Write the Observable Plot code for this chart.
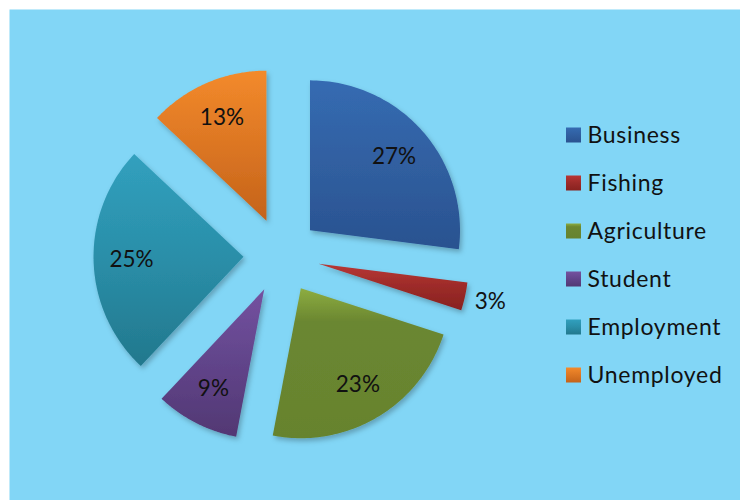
<!DOCTYPE html>
<html>
<head>
<meta charset="utf-8">
<script src="https://cdn.jsdelivr.net/npm/d3@7"></script>
<script src="https://cdn.jsdelivr.net/npm/@observablehq/plot@0.6"></script>
<style>
  html, body { margin: 0; padding: 0; background: #ffffff; }
  #chart svg { display: block; }
</style>
</head>
<body>
<div id="chart"></div>
<script>
// ---- data ----
const categories = ["Business", "Fishing", "Agriculture", "Student", "Employment", "Unemployed"];
const shares = [27, 3, 23, 9, 25, 13];
const shareLabels = ["27%", "3%", "23%", "9%", "25%", "13%"];
const topColors = ["#356BB2", "#B83634", "#8DAD41", "#7452A0", "#31A0BE", "#F38A2B"];
const midColors = ["#305FA0", "#9C2B29", "#6B8731", "#61448A", "#2A8EA8", "#DC7623"];
const bottomColors = ["#2A5290", "#88221F", "#66832E", "#523873", "#22788D", "#C4631A"];
const midStops = ["50%", "50%", "22%", "50%", "50%", "50%"];

// ---- layout constants ----
const W = 740, H = 500;
const cx = 281, cy = 255, R = 150, explode = 38;
const labelR = 112, outsideLabelR = 176;

const pie = d3.pie().sort(null).value(d => d)(shares);

const polyRows = [];
const labelRows = [];
pie.forEach((p, i) => {
  const mid = (p.startAngle + p.endAngle) / 2;
  const ox = cx + explode * Math.sin(mid);
  const oy = cy - explode * Math.cos(mid);
  const cat = categories[i];
  polyRows.push({cat, x: ox, y: oy});
  const steps = 80;
  for (let k = 0; k <= steps; k++) {
    const a = p.startAngle + (p.endAngle - p.startAngle) * k / steps;
    polyRows.push({cat, x: ox + R * Math.sin(a), y: oy - R * Math.cos(a)});
  }
  polyRows.push({cat, x: ox, y: oy});
  const lr = shares[i] < 5 ? outsideLabelR : labelR;
  labelRows.push({cat, text: shareLabels[i], x: ox + lr * Math.sin(mid), y: oy - lr * Math.cos(mid)});
});

const legendRows = categories.map((c, i) => ({cat: c, row: i}));
const legX = 566, legY0 = 135, legStep = 48, sw = 15;

const fillRange = categories.map((c, i) => `url(#grad${i})`);

const chart = Plot.plot({
  width: W,
  height: H,
  margin: 0,
  x: {domain: [0, W], range: [0, W], axis: null},
  y: {domain: [0, H], range: [0, H], axis: null},
  color: {type: "ordinal", domain: categories, range: fillRange},
  style: {fontFamily: "Lato, 'Open Sans', sans-serif", background: "#ffffff"},
  marks: [
    Plot.frame({fill: "#82D6F6", stroke: "none", insetLeft: 9, insetTop: 9}),
    Plot.line(polyRows, {x: "x", y: "y", z: "cat", fill: "cat", stroke: "none", curve: "linear"}),
    Plot.text(labelRows, {x: "x", y: "y", text: "text", fontSize: 22.5, fill: "#111111", letterSpacing: 0.3}),
    Plot.rect(legendRows, {
      x1: d => legX, x2: d => legX + sw,
      y1: d => legY0 + d.row * legStep - sw / 2, y2: d => legY0 + d.row * legStep + sw / 2,
      fill: "cat"
    }),
    Plot.text(legendRows, {
      x: d => legX + sw + 6, y: d => legY0 + d.row * legStep,
      text: "cat", textAnchor: "start", fontSize: 23, fill: "#111111"
    })
  ]
});

// gradient definitions
const svg = d3.select(chart);
const defs = svg.insert("defs", ":first-child");
categories.forEach((c, i) => {
  const g = defs.append("linearGradient").attr("id", `grad${i}`)
    .attr("x1", 0).attr("y1", 0).attr("x2", 0).attr("y2", 1);
  g.append("stop").attr("offset", "0%").attr("stop-color", topColors[i]);
  g.append("stop").attr("offset", midStops[i]).attr("stop-color", midColors[i]);
  g.append("stop").attr("offset", "100%").attr("stop-color", bottomColors[i]);
});
const f = defs.append("filter").attr("id", "shadow").attr("x", "-10%").attr("y", "-10%").attr("width", "130%").attr("height", "130%");
f.append("feDropShadow").attr("dx", 2).attr("dy", 3).attr("stdDeviation", 2.5)
  .attr("flood-color", "#000").attr("flood-opacity", 0.25);
svg.selectAll("g[aria-label='line'] path").attr("filter", "url(#shadow)");
svg.selectAll("g[aria-label='text']:last-of-type text").style("letter-spacing", "0.7px");

document.getElementById("chart").appendChild(chart);
</script>
</body>
</html>
